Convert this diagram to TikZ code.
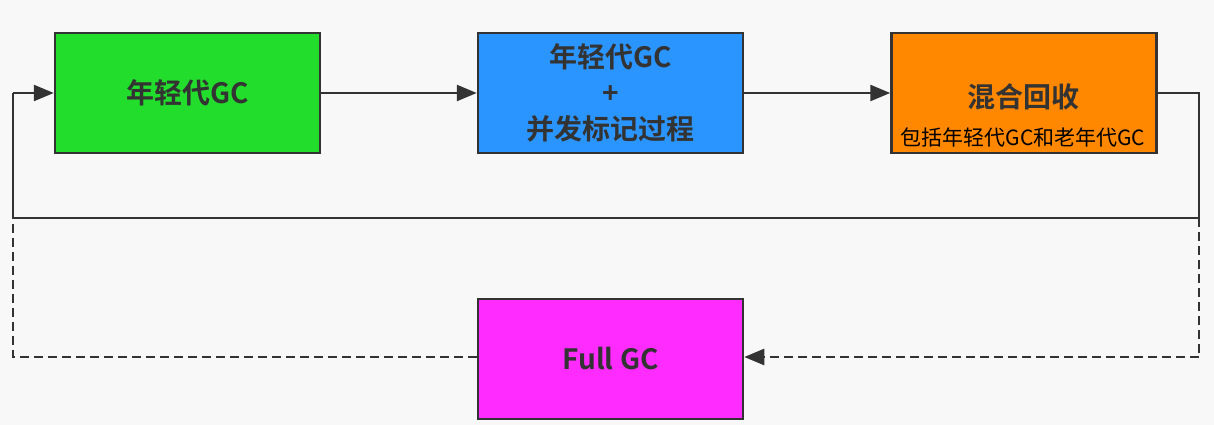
\documentclass[tikz,border=0pt]{standalone}
\usepackage{fontspec}
\setmainfont{Noto Sans CJK SC}
\newfontfamily\cjkb{Noto Sans CJK SC Bold}
\usetikzlibrary{arrows.meta}
\definecolor{bg}{HTML}{F7F8F7}
\definecolor{edge}{HTML}{333333}
\definecolor{gbox}{HTML}{22DD2B}
\definecolor{bbox}{HTML}{2B95FF}
\definecolor{obox}{HTML}{FF8800}
\definecolor{mbox}{HTML}{FF2BFF}
\begin{document}
\begin{tikzpicture}[x=1pt,y=-1pt,
  stagebox/.style={draw=edge, line width=2.5pt, minimum width=265pt, minimum height=120pt, inner sep=0pt, align=center, text=edge, font=\cjkb\fontsize{28}{36}\selectfont},
  conn/.style={draw=edge, line width=2.5pt, -{Triangle[length=20pt,width=16pt]}},
  plainline/.style={draw=edge, line width=2.5pt},
  dashline/.style={draw=edge, line width=2.5pt, dash pattern=on 9pt off 5pt},
]
\fill[bg] (0,0) rectangle (1214,425);
\useasboundingbox (0,0) rectangle (1214,425);
\node[stagebox, fill=gbox] (young) at (187.5,93) {年轻代GC};
\node[stagebox, fill=bbox] (conc) at (610.5,93) {年轻代GC\\+\\并发标记过程};
\node[stagebox, fill=obox] (mixed) at (1024,93) {};
\node[text=edge, font=\cjkb\fontsize{28}{32}\selectfont] (mixedt) at (1023,97) {混合回收};
\node[text=black, font=\fontsize{21}{24}\selectfont] (mixeds) at (1023,137) {包括年轻代GC和老年代GC};
\node[stagebox, fill=mbox] (full) at (610.5,359) {Full GC};
\coordinate (r1) at (1199,93);
\coordinate (r2) at (1199,218);
\coordinate (l2) at (13,218);
\coordinate (l1) at (13,93);
\coordinate (r3) at (1199,357);
\coordinate (l3) at (13,357);
\draw[conn] (young.east) -- (conc.west);
\draw[conn] (conc.east) -- (mixed.west);
\draw[plainline] (mixed.east) -- (r1) -- (r2) -- (l2) -- (l1);
\draw[conn] (l1) -- (young.west);
\draw[dashline] (r2) -- (r3);
\draw[conn, dash pattern=on 9pt off 5pt] (r3) -- (full.east |- r3);
\draw[dashline] (full.west |- l3) -- (l3) -- (l2);
\end{tikzpicture}
\end{document}
